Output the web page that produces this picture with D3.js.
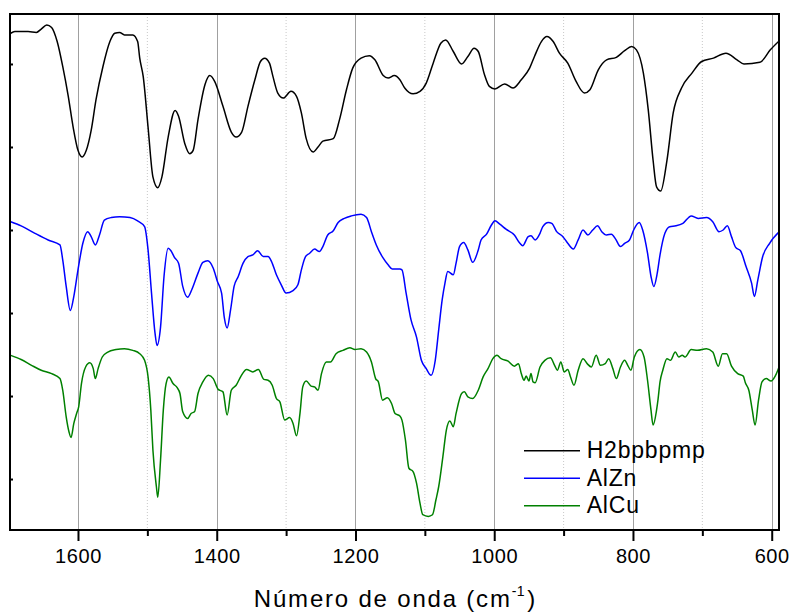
<!DOCTYPE html>
<html>
<head>
<meta charset="utf-8">
<script src="https://cdn.jsdelivr.net/npm/d3@7/dist/d3.min.js"></script>
<style>
  html, body { margin: 0; padding: 0; background: #fff; }
  svg { display: block; }
  text { font-family: "Liberation Sans", Arial, Helvetica, sans-serif; fill: #000; }
</style>
</head>
<body>
<svg id="chart" width="792" height="614"></svg>
<script>
// ---------- data (wavenumber cm^-1, relative transmittance, offset traces) ----------
const seriesNames = ["H2bpbpmp", "AlZn", "AlCu"];
const seriesColors = ["#000000", "#0000ff", "#008000"];

const h2bpbpmp = [[1697,5.37],[1691,5.39],[1672,5.39],[1660,5.38],[1653,5.42],[1645,5.47],[1638,5.44],[1630,5.27],[1622,4.97],[1614,4.61],[1607,4.24],[1600,3.96],[1594,3.88],[1588,3.96],[1581,4.20],[1574,4.57],[1564,4.97],[1554,5.27],[1547,5.37],[1540,5.38],[1533,5.35],[1521,5.35],[1514,5.27],[1511,5.07],[1506,4.85],[1499,4.24],[1492,3.64],[1485,3.51],[1479,3.64],[1470,4.12],[1460,4.44],[1455,4.37],[1446,4.04],[1439,3.92],[1434,3.96],[1427,4.33],[1417,4.75],[1410,4.86],[1403,4.79],[1391,4.49],[1379,4.18],[1372,4.12],[1364,4.18],[1355,4.49],[1345,4.81],[1337,5.03],[1331,5.07],[1324,5.01],[1319,4.85],[1312,4.65],[1304,4.59],[1293,4.67],[1285,4.61],[1278,4.41],[1271,4.10],[1261,3.94],[1254,4.00],[1247,4.07],[1232,4.10],[1223,4.33],[1213,4.69],[1204,4.95],[1192,5.07],[1180,5.10],[1172,5.05],[1160,4.86],[1153,4.83],[1144,4.86],[1136,4.81],[1129,4.71],[1117,4.64],[1107,4.67],[1098,4.77],[1088,5.01],[1077,5.25],[1070,5.29],[1059,5.15],[1047,5.00],[1038,5.09],[1029,5.19],[1023,5.15],[1014,4.87],[1007,4.73],[999,4.70],[985,4.76],[973,4.71],[961,4.81],[949,4.95],[942,5.09],[932,5.27],[924,5.33],[915,5.27],[906,5.13],[894,5.01],[882,4.79],[870,4.65],[862,4.69],[850,4.93],[838,5.05],[824,5.08],[812,5.16],[802,5.21],[795,5.17],[785,4.89],[778,4.45],[771,3.84],[766,3.52],[760,3.47],[751,3.84],[742,4.41],[730,4.71],[715,4.89],[701,5.03],[684,5.07],[666,5.13],[650,5.05],[640,5.00],[617,5.02],[602,5.17],[589,5.28]];

const alZn = [[1697,3.10],[1682,3.05],[1662,2.96],[1643,2.88],[1626,2.82],[1622,2.64],[1617,2.32],[1611,2.03],[1606,2.20],[1600,2.52],[1593,2.84],[1586,2.98],[1581,2.92],[1575,2.82],[1569,2.94],[1562,3.12],[1552,3.15],[1540,3.16],[1525,3.15],[1514,3.11],[1504,3.04],[1499,2.76],[1494,2.24],[1489,1.76],[1486,1.61],[1481,1.83],[1476,2.44],[1470,2.78],[1466,2.75],[1461,2.67],[1455,2.60],[1449,2.32],[1442,2.19],[1436,2.28],[1427,2.48],[1420,2.61],[1413,2.63],[1405,2.54],[1399,2.38],[1393,2.24],[1389,1.94],[1385,1.82],[1380,2.04],[1375,2.32],[1369,2.44],[1362,2.60],[1355,2.68],[1348,2.70],[1341,2.75],[1333,2.68],[1326,2.68],[1321,2.62],[1314,2.46],[1307,2.34],[1300,2.24],[1290,2.27],[1283,2.34],[1278,2.52],[1272,2.68],[1266,2.72],[1259,2.77],[1252,2.74],[1247,2.80],[1240,2.94],[1232,2.99],[1225,3.09],[1216,3.14],[1206,3.17],[1192,3.19],[1184,3.15],[1177,2.98],[1170,2.82],[1160,2.66],[1153,2.58],[1147,2.53],[1136,2.53],[1133,2.52],[1127,2.24],[1120,1.92],[1112,1.71],[1105,1.43],[1098,1.33],[1091,1.25],[1085,1.43],[1080,1.80],[1075,2.16],[1071,2.36],[1067,2.50],[1059,2.46],[1055,2.60],[1050,2.80],[1044,2.85],[1038,2.76],[1031,2.61],[1023,2.76],[1019,2.88],[1011,2.95],[1004,3.06],[999,3.11],[992,3.07],[983,3.01],[971,2.94],[963,2.84],[959,2.81],[951,2.92],[947,2.93],[941,2.88],[934,2.96],[930,3.04],[922,3.09],[917,3.08],[910,2.98],[901,2.92],[894,2.84],[886,2.77],[879,2.88],[872,3.00],[865,2.94],[858,3.00],[851,3.05],[845,2.98],[838,2.94],[831,2.95],[825,2.89],[818,2.80],[812,2.84],[805,2.88],[799,3.00],[791,3.09],[786,3.00],[779,2.72],[774,2.44],[770,2.32],[765,2.48],[761,2.70],[754,2.96],[747,3.04],[738,3.05],[728,3.08],[716,3.17],[706,3.14],[694,3.15],[685,3.10],[676,2.98],[670,3.00],[664,3.05],[658,2.92],[652,2.79],[645,2.75],[637,2.56],[629,2.36],[625,2.20],[620,2.40],[613,2.68],[603,2.84],[589,2.98]];

const alCu = [[1697,1.49],[1682,1.44],[1667,1.37],[1653,1.31],[1638,1.27],[1626,1.21],[1622,1.07],[1617,0.75],[1613,0.57],[1610,0.50],[1606,0.67],[1602,0.79],[1599,0.87],[1595,1.15],[1589,1.35],[1583,1.40],[1578,1.33],[1575,1.21],[1571,1.33],[1565,1.47],[1557,1.53],[1545,1.56],[1533,1.57],[1521,1.55],[1511,1.51],[1504,1.43],[1499,1.23],[1495,0.83],[1492,0.35],[1487,-0.09],[1485,-0.22],[1481,0.23],[1477,0.83],[1473,1.15],[1469,1.23],[1463,1.15],[1457,1.10],[1453,1.03],[1449,0.81],[1442,0.73],[1437,0.79],[1432,0.81],[1427,1.03],[1420,1.17],[1412,1.25],[1405,1.21],[1398,1.08],[1391,1.05],[1385,0.77],[1379,1.07],[1372,1.13],[1365,1.24],[1357,1.32],[1348,1.29],[1340,1.32],[1332,1.20],[1326,1.19],[1320,1.13],[1314,0.97],[1309,0.93],[1302,0.71],[1295,0.74],[1290,0.67],[1285,0.52],[1280,0.79],[1276,1.11],[1271,1.18],[1264,1.12],[1259,1.11],[1254,1.07],[1249,1.27],[1242,1.41],[1236,1.41],[1228,1.51],[1218,1.55],[1208,1.58],[1201,1.56],[1192,1.57],[1184,1.53],[1177,1.41],[1171,1.21],[1167,1.17],[1161,0.95],[1154,0.98],[1148,0.91],[1143,0.79],[1136,0.76],[1133,0.71],[1128,0.47],[1123,0.13],[1117,0.09],[1112,-0.05],[1107,-0.29],[1103,-0.43],[1095,-0.45],[1089,-0.43],[1084,-0.25],[1080,-0.09],[1074,0.27],[1069,0.59],[1064,0.70],[1059,0.63],[1055,0.79],[1047,1.03],[1043,1.05],[1038,0.99],[1031,0.97],[1023,1.07],[1016,1.23],[1009,1.33],[1002,1.45],[996,1.49],[990,1.45],[980,1.42],[971,1.36],[965,1.39],[961,1.27],[957,1.19],[954,1.24],[950,1.18],[947,1.27],[944,1.17],[941,1.16],[934,1.35],[927,1.43],[919,1.46],[913,1.37],[909,1.31],[904,1.41],[899,1.29],[894,1.32],[890,1.23],[885,1.13],[879,1.31],[872,1.45],[866,1.39],[860,1.35],[853,1.49],[847,1.37],[840,1.39],[835,1.45],[829,1.33],[824,1.21],[818,1.35],[812,1.43],[807,1.36],[803,1.31],[798,1.47],[790,1.56],[784,1.47],[779,1.19],[774,0.83],[771,0.65],[766,0.83],[764,0.95],[761,1.17],[757,1.31],[751,1.45],[746,1.43],[739,1.53],[734,1.47],[729,1.49],[725,1.47],[716,1.56],[707,1.55],[694,1.57],[685,1.53],[677,1.36],[671,1.51],[665,1.51],[658,1.36],[649,1.27],[641,1.24],[638,1.16],[633,1.07],[628,0.83],[624,0.65],[619,0.95],[614,1.17],[608,1.21],[601,1.18],[595,1.24],[589,1.36]];

const xMajorTicks = [1600, 1400, 1200, 1000, 800, 600];
const xMinorTicks = [1500, 1300, 1100, 900, 700];
const yTicks = [0, 1, 2, 3, 4, 5];
const xDomain = [1698, 589.5];
const yDomain = [-0.614, 5.602];
const xTitle = "Número de onda (cm";
const xTitleSup = "-1";

// ---------- layout ----------
const plot = { left: 10, right: 779, top: 14, bottom: 530 };
const svg = d3.select("#chart");

const x = d3.scaleLinear().domain(xDomain).range([plot.left, plot.right]);
const y = d3.scaleLinear().domain(yDomain).range([plot.bottom, plot.top]);

svg.append("defs").append("clipPath").attr("id", "clip")
  .append("rect")
  .attr("x", plot.left).attr("y", plot.top)
  .attr("width", plot.right - plot.left).attr("height", plot.bottom - plot.top);

// grid lines
svg.append("g").selectAll("line").data(xMinorTicks).join("line")
  .attr("x1", d => x(d)).attr("x2", d => x(d))
  .attr("y1", plot.top).attr("y2", plot.bottom)
  .attr("stroke", "#c8c8c8").attr("stroke-width", 1)
  .attr("stroke-dasharray", "1,2");
svg.append("g").selectAll("line").data(xMajorTicks).join("line")
  .attr("x1", d => Math.round(x(d)) + 0.5).attr("x2", d => Math.round(x(d)) + 0.5)
  .attr("y1", plot.top).attr("y2", plot.bottom)
  .attr("stroke", "#a0a0a0").attr("stroke-width", 1);

// curves
const line = d3.line()
  .x(d => x(d[0])).y(d => y(d[1]))
  .curve(d3.curveMonotoneX);

const allSeries = [h2bpbpmp, alZn, alCu];
svg.append("g").attr("clip-path", "url(#clip)")
  .selectAll("path").data(allSeries).join("path")
  .attr("d", d => line(d))
  .attr("fill", "none")
  .attr("stroke", (d, i) => seriesColors[i])
  .attr("stroke-width", 1.5)
  .attr("stroke-linejoin", "round");

// x axis (major + minor ticks)
const xAxisMajor = d3.axisBottom(x).tickValues(xMajorTicks).tickSize(11).tickFormat(d3.format("d"));
const gxMaj = svg.append("g").attr("transform", `translate(0,${plot.bottom})`).call(xAxisMajor);
gxMaj.select(".domain").remove();
gxMaj.selectAll(".tick line").attr("stroke", "#000").attr("stroke-width", 2);
gxMaj.selectAll(".tick text")
  .attr("y", 33).attr("dy", 0)
  .style("font-size", "20px").style("letter-spacing", "0.6px")
  .style("font-family", "'Liberation Sans', Arial, sans-serif")
  .attr("fill", "#000");

const xAxisMinor = d3.axisBottom(x).tickValues(xMinorTicks).tickSize(6).tickFormat("");
const gxMin = svg.append("g").attr("transform", `translate(0,${plot.bottom})`).call(xAxisMinor);
gxMin.select(".domain").remove();
gxMin.selectAll(".tick line").attr("stroke", "#000").attr("stroke-width", 2);

// y axis ticks (inward, no labels)
const yAxis = d3.axisLeft(y).tickValues(yTicks).tickSize(-3).tickFormat("");
const gy = svg.append("g").attr("transform", `translate(${plot.left},0)`).call(yAxis);
gy.select(".domain").remove();
gy.selectAll(".tick line").attr("stroke", "#000").attr("stroke-width", 2);

// frame
svg.append("rect")
  .attr("x", plot.left).attr("y", plot.top)
  .attr("width", plot.right - plot.left).attr("height", plot.bottom - plot.top)
  .attr("fill", "none").attr("stroke", "#000").attr("stroke-width", 2);

// x title
const title = svg.append("text")
  .attr("x", (plot.left + plot.right) / 2).attr("y", 607)
  .attr("text-anchor", "middle")
  .style("font-size", "24px").style("letter-spacing", "1.8px");
title.append("tspan").text(xTitle);
title.append("tspan").attr("dy", -11).style("font-size", "14px").style("letter-spacing", "0.5px").text(xTitleSup);
title.append("tspan").attr("dy", 11).style("letter-spacing", "0px").attr("dx", 2).text(")");

// legend
const legend = svg.append("g");
const legendRows = seriesNames.map((name, i) => ({ name, color: seriesColors[i], i }));
const lg = legend.selectAll("g").data(legendRows).join("g")
  .attr("transform", d => `translate(524,${450.7 + d.i * 27.5})`);
lg.append("line").attr("x1", 0).attr("x2", 56).attr("y1", 0).attr("y2", 0)
  .attr("stroke", d => d.color).attr("stroke-width", 1.5);
lg.append("text").attr("x", 62.7).attr("y", 7.5)
  .style("font-size", "23px").style("letter-spacing", "0.8px")
  .text(d => d.name);
</script>
</body>
</html>
